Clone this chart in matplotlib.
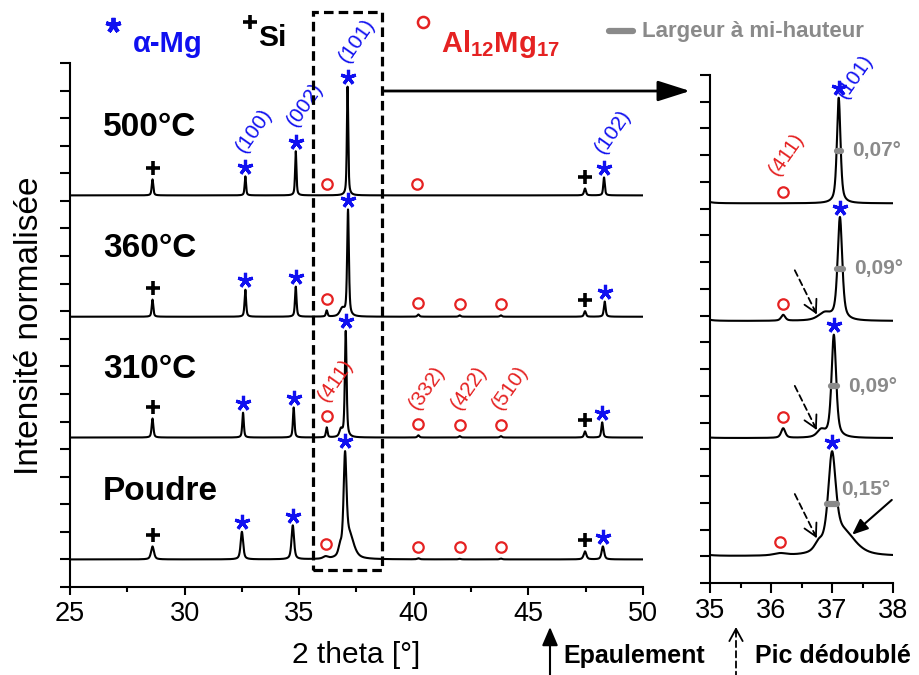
import numpy as np
import matplotlib
matplotlib.use("Agg")
import matplotlib.pyplot as plt
from matplotlib.lines import Line2D
from matplotlib.patches import Rectangle, FancyArrowPatch
from matplotlib.transforms import blended_transform_factory

plt.rcParams["font.family"] = ["Liberation Sans", "DejaVu Sans"]
plt.rcParams["mathtext.fontset"] = "custom"
plt.rcParams["mathtext.rm"] = "Liberation Sans"
plt.rcParams["mathtext.bf"] = "Liberation Sans:bold"

# ---- data ----------------------------------------------------------------
samples = ["Poudre", "310°C", "360°C", "500°C"]

# (2theta [°], height [tick units], FWHM [°], phase, hkl)
peaks_poudre = [
    (28.60, 0.47, 0.15, "Si", ""),
    (32.50, 1.00, 0.13, "Mg", "(100)"),
    (34.72, 1.23, 0.13, "Mg", "(002)"),
    (36.15, 0.08, 0.25, "Al", "(411)"),
    (36.78, 0.30, 0.16, "shoulder", ""),
    (37.00, 3.45, 0.15, "Mg", "(101)"),
    (37.20, 0.80, 0.45, "tail", ""),
    (40.20, 0.04, 0.12, "Al", "(332)"),
    (42.00, 0.02, 0.12, "Al", "(422)"),
    (43.80, 0.03, 0.12, "Al", "(510)"),
    (47.47, 0.29, 0.14, "Si", ""),
    (48.25, 0.47, 0.13, "Mg", "(102)"),
]
peaks_310 = [
    (28.60, 0.69, 0.09, "Si", ""),
    (32.55, 0.90, 0.08, "Mg", "(100)"),
    (34.76, 1.09, 0.08, "Mg", "(002)"),
    (36.20, 0.36, 0.08, "Al", "(411)"),
    (36.82, 0.26, 0.15, "shoulder", ""),
    (37.03, 3.85, 0.09, "Mg", "(101)"),
    (40.20, 0.08, 0.10, "Al", "(332)"),
    (42.00, 0.05, 0.10, "Al", "(422)"),
    (43.80, 0.05, 0.10, "Al", "(510)"),
    (47.47, 0.22, 0.10, "Si", ""),
    (48.22, 0.55, 0.09, "Mg", "(102)"),
]
peaks_360 = [
    (28.60, 0.62, 0.08, "Si", ""),
    (32.65, 0.98, 0.08, "Mg", "(100)"),
    (34.85, 1.09, 0.08, "Mg", "(002)"),
    (36.20, 0.22, 0.08, "Al", "(411)"),
    (36.88, 0.28, 0.25, "shoulder", ""),
    (37.13, 3.85, 0.09, "Mg", "(101)"),
    (40.20, 0.08, 0.10, "Al", "(332)"),
    (42.00, 0.05, 0.10, "Al", "(422)"),
    (43.80, 0.05, 0.10, "Al", "(510)"),
    (47.47, 0.20, 0.10, "Si", ""),
    (48.33, 0.55, 0.09, "Mg", "(102)"),
]
peaks_500 = [
    (28.60, 0.58, 0.08, "Si", ""),
    (32.65, 0.69, 0.07, "Mg", "(100)"),
    (34.85, 1.60, 0.07, "Mg", "(002)"),
    (36.20, 0.00, 0.08, "Al", "(411)"),
    (37.11, 3.95, 0.07, "Mg", "(101)"),
    (40.15, 0.00, 0.10, "Al", "(332)"),
    (47.47, 0.25, 0.10, "Si", ""),
    (48.30, 0.65, 0.08, "Mg", "(102)"),
]
all_peaks = [peaks_poudre, peaks_310, peaks_360, peaks_500]

fwhm_values = [0.15, 0.09, 0.09, 0.07]
fwhm_labels = ["0,15°", "0,09°", "0,09°", "0,07°"]

# ---- layout / style --------------------------------------------------------
OFFSETS = [1.0, 5.42, 9.8, 14.2]
ZOOM_BOX = (35.6, 38.6)
BLUE = "#1010f0"
RED = "#e52222"
GREY = "#8a8a8a"
W, H = 920, 675


def fx(px):
    return px / W


def fy(py):
    return 1 - py / H


def profile(tt, peaks):
    y = np.zeros_like(tt)
    for pos, h, w, _, _ in peaks:
        d = (tt - pos) / w
        y += h * (0.4 * np.exp(-4 * np.log(2) * d ** 2) + 0.6 / (1 + 4 * d ** 2))
    return y


MARKERS = {
    "Mg": dict(marker=(5, 2, 0), ms=11, mew=2.3, color=BLUE, gap=0.35),
    "Si": dict(marker="+", ms=10, mew=2.6, color="black", gap=0.42),
    "Al": dict(marker="o", ms=7.5, mew=1.6, color=RED, mfc="none", gap=0.42),
}


def draw_markers(ax, peaks, base, lo, hi, labels=(), label_off=None):
    label_off = label_off or {}
    for pos, h, w, phase, hkl in peaks:
        if phase not in MARKERS or not lo <= pos <= hi:
            continue
        st = dict(MARKERS[phase])
        gap = st.pop("gap")
        yv = base + profile(np.array([pos]), peaks)[0] + gap
        ax.plot([pos], [yv], linestyle="none", clip_on=False, zorder=5, **st)
        if hkl in labels:
            ax.annotate(hkl, (pos, yv), xytext=label_off.get(hkl, (2, 8)),
                        textcoords="offset points", rotation=55,
                        rotation_mode="anchor", ha="left", va="bottom",
                        fontsize=15, color=st["color"], annotation_clip=False)


def dashed_arrow(ax, tip, tail, coords="data", lw=1.3):
    ax.annotate("", xy=tip, xytext=tail, xycoords=coords, textcoords=coords,
                annotation_clip=False, arrowprops=dict(
                    arrowstyle="-", lw=lw, ls=(0, (3.5, 2.2)),
                    shrinkA=0, shrinkB=0))
    tip = np.array(tip)
    tail = np.array(tail)
    near = tip + (tail - tip) * 0.12
    ax.annotate("", xy=tip, xytext=near, xycoords=coords, textcoords=coords,
                annotation_clip=False, arrowprops=dict(
                    arrowstyle="->,head_length=0.55,head_width=0.3", lw=lw,
                    shrinkA=0, shrinkB=0, mutation_scale=16))


fig = plt.figure(figsize=(W / 100, H / 100), dpi=100)
ax = fig.add_axes([fx(70), 1 - 587 / H, 573 / W, 524 / H])
axz = fig.add_axes([fx(710), 1 - 583 / H, 183 / W, 508 / H])

tt = np.linspace(25, 50, 6001)
ttz = np.linspace(35, 38, 3001)

for name, peaks, base in zip(samples, all_peaks, OFFSETS):
    ax.plot(tt, base + profile(tt, peaks), color="black", lw=1.5)
    axz.plot(ttz, base + profile(ttz, peaks), color="black", lw=1.5)

    if name == "500°C":
        labels_main = ("(100)", "(002)", "(101)", "(102)")
    elif name == "310°C":
        labels_main = ("(411)", "(332)", "(422)", "(510)")
    else:
        labels_main = ()
    draw_markers(ax, peaks, base, 25, 50, labels_main)
    draw_markers(axz, peaks, base, 35, 38,
                 ("(411)", "(101)") if name == "500°C" else (),
                 {"(101)": (7, -10), "(411)": (-2, 9)})

    ax.text(26.45, base + 2.15, name, fontsize=24, fontweight="bold",
            va="baseline", ha="left")

# FWHM bars and labels in the zoom
for name, peaks, base, fw, lab in zip(samples, all_peaks, OFFSETS,
                                      fwhm_values, fwhm_labels):
    main = [p for p in peaks if p[4] == "(101)"][0]
    top = profile(np.array([main[0]]), peaks)[0]
    yb = base + top / 2
    axz.plot([main[0] - fw / 2, main[0] + fw / 2], [yb, yb], color=GREY,
             lw=4.5, solid_capstyle="round", zorder=4)
    off = (3, 10) if name == "Poudre" else (8, 0)
    axz.annotate(lab, (main[0] + fw / 2, yb), xytext=off,
                 textcoords="offset points", fontsize=15, fontweight="bold",
                 color=GREY, va="center", ha="left", annotation_clip=False)

# arrows in the zoom
for peaks, base in zip(all_peaks[:3], OFFSETS[:3]):
    sh = [p for p in peaks if p[3] == "shoulder"][0]
    xs = 36.77
    ys = base + profile(np.array([xs]), peaks)[0] + 0.05
    dashed_arrow(axz, (xs - 0.02, ys), (xs - 0.38, ys + 1.65))
tail = [p for p in peaks_poudre if p[3] == "tail"][0]
xt = tail[0] + 0.1
yt = OFFSETS[0] + profile(np.array([xt]), peaks_poudre)[0]
axz.annotate("", xy=(xt + 0.03, yt), xytext=(xt + 0.68, yt + 1.3),
             arrowprops=dict(arrowstyle="-|>,head_length=0.6,head_width=0.25",
                             lw=1.5, color="black", shrinkA=0, shrinkB=0,
                             mutation_scale=16), annotation_clip=False)

# axes styling
for a, lo, hi, major, minor in [(ax, 25, 50, 5, 2.5), (axz, 35, 38, 1, 0.5)]:
    a.set_xlim(lo, hi)
    a.set_ylim(0, 19)
    a.set_xticks(np.arange(lo, hi + 0.01, major))
    a.set_xticks(np.arange(lo, hi + 0.01, minor), minor=True)
    a.set_yticks(np.arange(0, 20, 1))
    a.set_yticklabels([])
    for s in ("top", "right"):
        a.spines[s].set_visible(False)
    for s in ("left", "bottom"):
        a.spines[s].set_linewidth(1.5)
    a.tick_params(axis="x", which="major", direction="out", length=6, width=1.5,
                  labelsize=19.5, pad=4)
    a.tick_params(axis="x", which="minor", direction="out", length=3.5, width=1.5)
    a.tick_params(axis="y", direction="out", length=7, width=1.5)
axz.tick_params(axis="x", which="major", length=7)

fig.text(fx(356), fy(655), "2 theta [°]", fontsize=21.5, ha="center", va="center")
fig.text(fx(30), fy(326), "Intensité normalisée", fontsize=24, rotation=90,
         ha="center", va="center")

# dashed zoom box and arrow to zoom panel
tr = blended_transform_factory(ax.transData, ax.transAxes)
ax.add_patch(Rectangle((ZOOM_BOX[0], 0.032), ZOOM_BOX[1] - ZOOM_BOX[0], 1.065,
                       transform=tr, fill=False, lw=2.3, ls=(0, (3, 1.6)),
                       ec="black", clip_on=False, zorder=6))
fig.add_artist(FancyArrowPatch(
    (fx(383), fy(91)), (fx(690), fy(91)), transform=fig.transFigure,
    arrowstyle="-|>,head_length=1.1,head_width=0.35", mutation_scale=18,
    lw=2, color="black", shrinkA=0, shrinkB=0))

# top legend
fig.add_artist(Line2D([fx(113)], [fy(25)], transform=fig.transFigure,
                      marker=(5, 2, 0), ms=11, mew=2.8, color=BLUE))
fig.text(fx(133), fy(52), "α-Mg", fontsize=21, fontweight="bold", color=BLUE,
         va="baseline")
fig.add_artist(Line2D([fx(250)], [fy(22)], transform=fig.transFigure,
                      marker="+", ms=10, mew=2.6, color="black"))
fig.text(fx(258), fy(46), "Si", fontsize=21.5, fontweight="bold", va="baseline")
fig.add_artist(Line2D([fx(423)], [fy(22)], transform=fig.transFigure,
                      marker="o", ms=8, mew=1.8, color=RED, mfc="none"))
fig.text(fx(441), fy(52), r"$\mathbf{Al_{12}Mg_{17}}$", fontsize=21, color=RED,
         va="baseline")
fig.add_artist(Line2D([fx(609), fx(633)], [fy(31), fy(31)],
                      transform=fig.transFigure, lw=4.5, color=GREY,
                      solid_capstyle="round"))
fig.text(fx(642), fy(31), "Largeur à mi-hauteur", fontsize=16,
         fontweight="bold", color=GREY, va="center")

# bottom legend of arrows
fig.add_artist(FancyArrowPatch(
    (fx(550), fy(678)), (fx(550), fy(627)), transform=fig.transFigure,
    arrowstyle="-|>,head_length=0.7,head_width=0.3", mutation_scale=16,
    lw=1.5, color="black", shrinkA=0, shrinkB=0))
fig.text(fx(563), fy(663), "Epaulement", fontsize=18, fontweight="bold",
         va="baseline")
dashed_arrow(ax, (fx(736), fy(627)), (fx(736), fy(678)), coords="figure fraction")
fig.text(fx(755), fy(663), "Pic dédoublé", fontsize=18, fontweight="bold",
         va="baseline")

fig.savefig("out.png", dpi=100)
